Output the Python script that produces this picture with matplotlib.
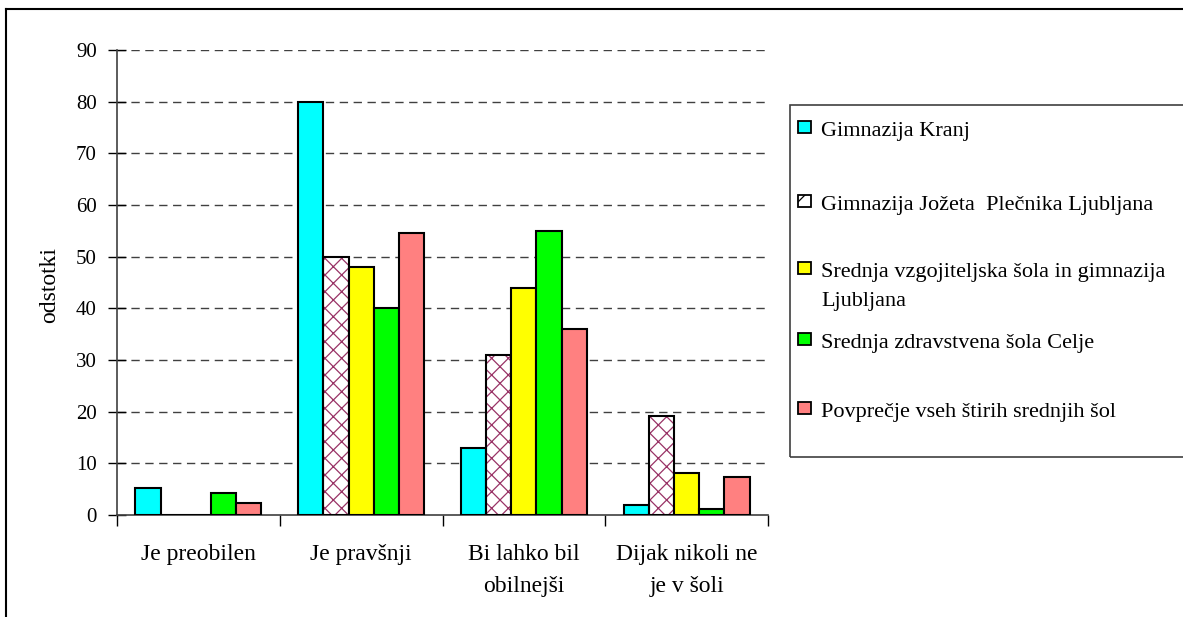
import numpy as np
import matplotlib
matplotlib.use('Agg')
from matplotlib import pyplot as plt
from matplotlib.patches import Rectangle
from matplotlib.lines import Line2D

plt.rcParams['font.family'] = ['Liberation Serif', 'DejaVu Serif']
plt.rcParams['hatch.linewidth'] = 0.9

# data
categories = ['Je preobilen', 'Je pravšnji', 'Bi lahko bil\nobilnejši', 'Dijak nikoli ne\nje v šoli']
schools = ['Gimnazija Kranj',
           'Gimnazija Jožeta  Plečnika Ljubljana',
           'Srednja vzgojiteljska šola in gimnazija\nLjubljana',
           'Srednja zdravstvena šola Celje',
           'Povprečje vseh štirih srednjih šol']
kranj = [5.2, 80, 13, 1.9]
plecnik = [0, 50, 31, 19.2]
vzgojiteljska = [0, 48, 44, 8.1]
celje = [4.2, 40, 55, 1.1]
povprecje = [2.3, 54.5, 36, 7.4]
series = [kranj, plecnik, vzgojiteljska, celje, povprecje]
colors = ['#00ffff', 'white', '#ffff00', '#00ff00', '#ff8080']
hatch_color = '#993366'

W, H = 1183, 617
fig = plt.figure(figsize=(W / 100, H / 100), dpi=100)
ax = fig.add_axes([117 / W, 1 - 515 / H, (768 - 117) / W, (515 - 50) / H])

x = np.arange(len(categories))
bw = 0.155
for i, vals in enumerate(series):
    pos = x + (i - 2) * bw
    if i == 1:
        # hatched series: pattern first, then black outline
        ax.bar(pos, vals, bw, color='white', edgecolor=hatch_color, hatch='xx',
               linewidth=0, zorder=2)
        ax.bar(pos, vals, bw, fill=False, edgecolor='black', linewidth=1.5, zorder=3)
    else:
        ax.bar(pos, vals, bw, color=colors[i], edgecolor='black', linewidth=1.5, zorder=3)

ax.set_xlim(-0.5, len(categories) - 0.5)
ax.set_ylim(0, 90)
ax.set_yticks(np.arange(0, 91, 10))
ax.tick_params(axis='y', direction='inout', length=13, width=1, labelsize=15, pad=8)
for yv in np.arange(10, 91, 10):
    ax.axhline(yv, color='#404040', linestyle=(0, (6, 4)), linewidth=1, zorder=1)

ax.set_xticks(np.arange(-0.5, len(categories), 1.0))
ax.set_xticklabels([])
ax.set_xticks(x, minor=True)
ax.set_xticklabels(categories, minor=True, fontsize=17, linespacing=1.7)
ax.tick_params(axis='x', which='major', direction='out', length=8, width=1)
ax.tick_params(axis='x', which='minor', length=0, pad=21)

for s in ['top', 'right']:
    ax.spines[s].set_visible(False)
ax.spines['left'].set_color('#404040')
ax.spines['bottom'].set_color('#404040')
ax.spines['left'].set_linewidth(1.2)
ax.spines['bottom'].set_linewidth(1.2)

fig.text(50 / W, 1 - 285 / H, 'odstotki', fontsize=17, rotation=90, ha='center', va='center')

# outer border of chart area
fig.add_artist(Line2D([6 / W, 6 / W], [0, 1 - 9 / H], color='black', linewidth=1.5,
                      transform=fig.transFigure))
fig.add_artist(Line2D([6 / W, 1], [1 - 9 / H, 1 - 9 / H], color='black', linewidth=1.5,
                      transform=fig.transFigure))

# legend box
fig.add_artist(Rectangle((790 / W, 1 - 457 / H), (W + 20 - 790) / W, (457 - 105) / H,
                         fill=False, edgecolor='#404040', linewidth=1.2,
                         transform=fig.transFigure, clip_on=False))
leg_y = [127, 201, 268, 339, 408]
for i, name in enumerate(schools):
    yc = leg_y[i]
    sq = Rectangle((798 / W, 1 - (yc + 6) / H), 13 / W, 12 / H, transform=fig.transFigure,
                   facecolor=colors[i], edgecolor='black', linewidth=1.3)
    if i == 1:
        sq.set_hatch('/')
    fig.add_artist(sq)
    for k, line in enumerate(name.split('\n')):
        fig.text(821 / W, 1 - (yc + 9 + 29 * k) / H, line, fontsize=16, va='baseline',
                 ha='left')

fig.savefig('out.png', dpi=100)
